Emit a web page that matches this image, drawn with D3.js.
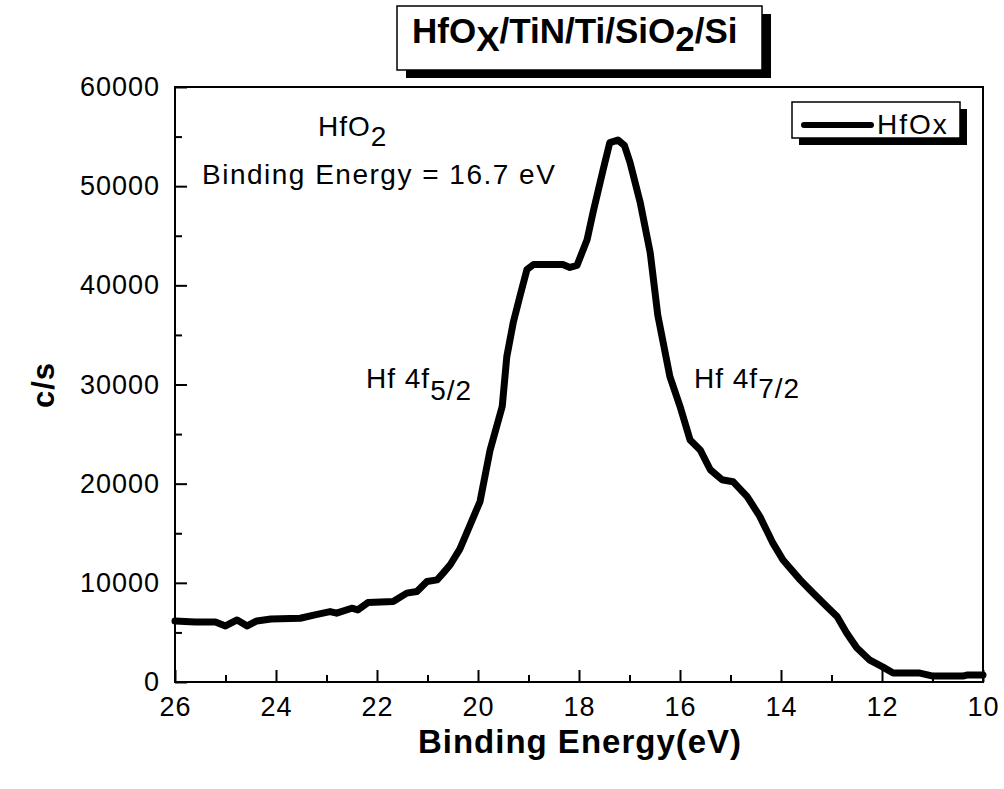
<!DOCTYPE html>
<html>
<head>
<meta charset="utf-8">
<script src="https://cdn.jsdelivr.net/npm/d3@7"></script>
<style>
  body { margin: 0; background: #fff; }
  svg { display: block; font-family: "Liberation Sans", Arial, sans-serif; }
</style>
</head>
<body>
<svg id="chart" width="1004" height="789"></svg>
<script>
const energie = [
  26.0, 25.6, 25.2, 25.0, 24.77, 24.57, 24.38, 24.1, 23.52, 23.23,
  22.93, 22.8, 22.5, 22.38, 22.18, 21.68, 21.41, 21.21, 21.01, 20.81,
  20.69, 20.55, 20.36, 20.16, 19.96, 19.76, 19.52, 19.43, 19.3, 19.17,
  19.03, 18.9, 18.32, 18.18, 18.04, 17.84, 17.72, 17.52, 17.39, 17.23,
  17.1, 16.99, 16.79, 16.59, 16.44, 16.2, 16.0, 15.8, 15.6, 15.4,
  15.17, 14.95, 14.67, 14.42, 14.16, 13.96, 13.62, 13.37, 13.09, 12.89,
  12.7, 12.5, 12.24, 11.98, 11.78, 11.25, 10.99, 10.4, 10.32, 10.0
];
const coups = [
  6150, 6060, 6060, 5650, 6260, 5650, 6160, 6360, 6430, 6770,
  7100, 6940, 7440, 7270, 8010, 8110, 8960, 9120, 10130, 10300,
  10980, 11820, 13400, 15800, 18200, 23400, 27800, 32800, 36300, 38900,
  41600, 42100, 42100, 41800, 42000, 44600, 47400, 51700, 54400, 54650,
  54100, 52400, 48400, 43300, 37000, 30800, 27800, 24400, 23400, 21400,
  20400, 20200, 18700, 16700, 14000, 12300, 10300, 9000, 7600, 6600,
  4950, 3450, 2200, 1500, 900, 900, 600, 600, 700, 700
];
const ticksX = [26, 24, 22, 20, 18, 16, 14, 12, 10];
const ticksXmineurs = [25, 23, 21, 19, 17, 15, 13, 11];
const ticksY = [0, 10000, 20000, 30000, 40000, 50000, 60000];
const ticksYmineurs = [5000, 15000, 25000, 35000, 45000, 55000];
const serie = "HfOx";

// zone du graphe
const gauche = 175, droite = 983, haut = 87, bas = 682;

const svg = d3.select("#chart");

const x = d3.scaleLinear().domain([26, 10]).range([gauche, droite]);
const y = d3.scaleLinear().domain([0, 60000]).range([bas, haut]);

// titre dans un cadre avec ombre
svg.append("rect").attr("x", 406).attr("y", 14).attr("width", 365).attr("height", 64).attr("fill", "#000");
svg.append("rect").attr("x", 397).attr("y", 6).attr("width", 365).attr("height", 64)
   .attr("fill", "#fff").attr("stroke", "#000").attr("stroke-width", 1.5);
const titre = svg.append("text").attr("x", 412).attr("y", 43)
   .attr("font-size", 35).attr("font-weight", "bold");
titre.append("tspan").text("HfO");
titre.append("tspan").attr("dy", 8).text("X");
titre.append("tspan").attr("dy", -8).text("/TiN/Ti/SiO");
titre.append("tspan").attr("dy", 8).text("2");
titre.append("tspan").attr("dy", -8).text("/Si");

// axes avec graduations vers l'intérieur
const axeX = svg.append("g").attr("transform", `translate(0,${bas})`)
   .call(d3.axisBottom(x).tickValues(ticksX).tickSizeInner(-12).tickSizeOuter(0).tickPadding(15).tickFormat(d3.format("d")));
const axeXm = svg.append("g").attr("transform", `translate(0,${bas})`)
   .call(d3.axisBottom(x).tickValues(ticksXmineurs).tickSizeInner(-7).tickSizeOuter(0).tickFormat(""));
const axeY = svg.append("g").attr("transform", `translate(${gauche},0)`)
   .call(d3.axisLeft(y).tickValues(ticksY).tickSizeInner(-12).tickSizeOuter(0).tickPadding(15).tickFormat(d3.format("d")));
const axeYm = svg.append("g").attr("transform", `translate(${gauche},0)`)
   .call(d3.axisLeft(y).tickValues(ticksYmineurs).tickSizeInner(-7).tickSizeOuter(0).tickFormat(""));

[axeX, axeXm, axeY, axeYm].forEach(a => {
  a.select(".domain").remove();
  a.selectAll(".tick line").attr("stroke", "#000").attr("stroke-width", 2);
  a.selectAll(".tick text").attr("font-family", "Liberation Sans, Arial, sans-serif")
   .attr("font-size", 27).attr("letter-spacing", "1px").attr("fill", "#000");
});

// cadre du graphe
svg.append("rect").attr("x", gauche).attr("y", haut).attr("width", droite - gauche).attr("height", bas - haut)
   .attr("fill", "none").attr("stroke", "#000").attr("stroke-width", 2);

// courbe (points reliés par des segments)
const ligne = d3.line().x((d, i) => x(energie[i])).y(d => y(d));
svg.append("path").datum(coups).attr("d", ligne)
   .attr("fill", "none").attr("stroke", "#000").attr("stroke-width", 7)
   .attr("stroke-linejoin", "round").attr("stroke-linecap", "round");

// légende
svg.append("rect").attr("x", 799).attr("y", 109).attr("width", 168).attr("height", 36).attr("fill", "#000");
svg.append("rect").attr("x", 792).attr("y", 102).attr("width", 168).attr("height", 36)
   .attr("fill", "#fff").attr("stroke", "#000").attr("stroke-width", 1.5);
svg.append("line").attr("x1", 804).attr("x2", 871).attr("y1", 125).attr("y2", 125)
   .attr("stroke", "#000").attr("stroke-width", 6).attr("stroke-linecap", "round");
svg.append("text").attr("x", 877).attr("y", 134).attr("font-size", 28).attr("letter-spacing", "2px").text(serie);

// annotations
const hfo2 = svg.append("text").attr("x", 318).attr("y", 136).attr("font-size", 28).attr("letter-spacing", "1px");
hfo2.append("tspan").text("HfO");
hfo2.append("tspan").attr("dy", 10).text("2");
svg.append("text").attr("x", 202).attr("y", 184).attr("font-size", 28).attr("letter-spacing", "1.5px")
   .text("Binding Energy = 16.7 eV");

const pic1 = svg.append("text").attr("x", 366).attr("y", 388).attr("font-size", 28).attr("letter-spacing", "1px");
pic1.append("tspan").text("Hf 4f");
pic1.append("tspan").attr("dy", 12).text("5/2");
const pic2 = svg.append("text").attr("x", 694).attr("y", 388).attr("font-size", 28).attr("letter-spacing", "1px");
pic2.append("tspan").text("Hf 4f");
pic2.append("tspan").attr("dy", 10).text("7/2");

// titres des axes
svg.append("text").attr("x", 580).attr("y", 753).attr("text-anchor", "middle")
   .attr("font-size", 33).attr("font-weight", "bold").attr("letter-spacing", "1px")
   .text("Binding Energy(eV)");
svg.append("text").attr("transform", "translate(54,385) rotate(-90)").attr("text-anchor", "middle")
   .attr("font-size", 31).attr("font-weight", "bold").attr("letter-spacing", "1px")
   .text("c/s");
</script>
</body>
</html>
